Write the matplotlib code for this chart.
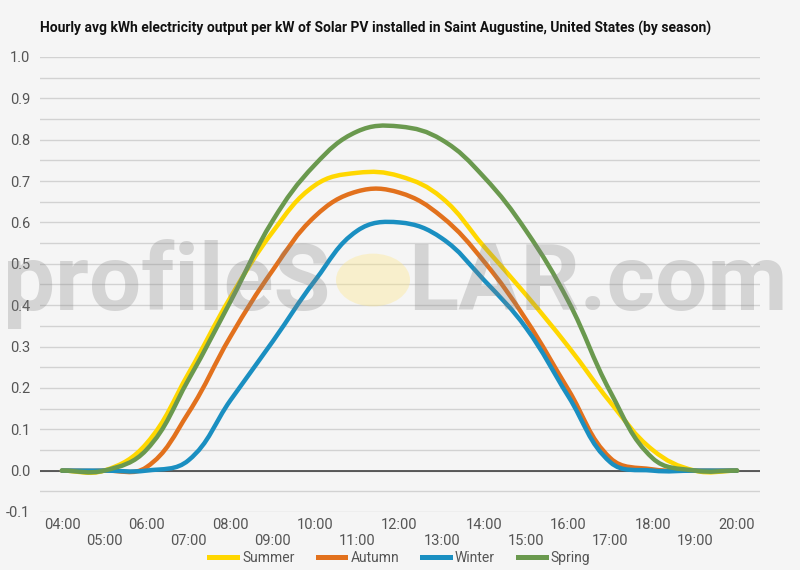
import matplotlib
matplotlib.use("Agg")
import matplotlib.pyplot as plt
from matplotlib.path import Path
from matplotlib.patches import PathPatch, Circle
from matplotlib.lines import Line2D

plt.rcParams['font.family'] = ['Roboto', 'DejaVu Sans']

# hourly average output (kWh per kW)
hours = list(range(4, 21))
hour_labels = ["%02d:00" % h for h in hours]

summer = [0, 0, 0.065, 0.235, 0.42, 0.578, 0.69, 0.72, 0.712, 0.66, 0.542, 0.425, 0.30, 0.165, 0.05, 0, 0]
autumn = [0, 0, 0.008, 0.14, 0.325, 0.485, 0.615, 0.675, 0.672, 0.614, 0.506, 0.365, 0.196, 0.03, 0.003, 0, 0]
winter = [0, 0, 0, 0.025, 0.171, 0.313, 0.46, 0.58, 0.60, 0.562, 0.461, 0.345, 0.18, 0.02, 0, 0, 0]
spring = [0, 0, 0.05, 0.22, 0.41, 0.605, 0.74, 0.82, 0.832, 0.80, 0.71, 0.58, 0.41, 0.19, 0.03, 0, 0]

series = [("Summer", summer, "#FFD700"),
          ("Autumn", autumn, "#E2711D"),
          ("Winter", winter, "#1A8FC1"),
          ("Spring", spring, "#6A994E")]

title = "Hourly avg kWh electricity output per kW of Solar PV installed in Saint Augustine, United States (by season)"


def smooth_path(ax, xs, ys, t=0.4):
    # chart.js style spline: control points weighted by on-screen distances
    pix = ax.transData.transform(list(zip(xs, ys)))
    n = len(xs)
    cps = []
    for i in range(n):
        a = max(i - 1, 0)
        b = min(i + 1, n - 1)
        d01 = ((pix[i] - pix[a]) ** 2).sum() ** 0.5
        d12 = ((pix[b] - pix[i]) ** 2).sum() ** 0.5
        tot = d01 + d12
        s01 = d01 / tot if tot else 0
        s12 = d12 / tot if tot else 0
        dx, dy = xs[b] - xs[a], ys[b] - ys[a]
        before = (xs[i] - t * s01 * dx, ys[i] - t * s01 * dy)
        after = (xs[i] + t * s12 * dx, ys[i] + t * s12 * dy)
        cps.append((before, after))
    verts = [(xs[0], ys[0])]
    codes = [Path.MOVETO]
    for i in range(n - 1):
        verts += [cps[i][1], cps[i + 1][0], (xs[i + 1], ys[i + 1])]
        codes += [Path.CURVE4] * 3
    return Path(verts, codes)


bg = "#f5f5f5"
fig = plt.figure(figsize=(8, 5.7), dpi=100, facecolor=bg)
ax = fig.add_axes([0.05, 0.1018, 0.90, 0.7982])
ax.set_facecolor(bg)
ax.set_xlim(3.48, 20.545)
ax.set_ylim(-0.1, 1.0)

for name, vals, col in series:
    p = PathPatch(smooth_path(ax, hours, vals), fill=False, edgecolor=col, lw=3.2,
                  capstyle='round', joinstyle='round', zorder=3)
    ax.add_patch(p)

ax.set_yticks([i / 10 for i in range(-1, 11)])
ax.set_yticklabels(["%.1f" % (i / 10) for i in range(-1, 11)])
ax.set_yticks([i / 20 for i in range(-2, 21)], minor=True)
ax.grid(True, which='both', axis='y', color='#d2d2d2', lw=1)
ax.axhline(0, color='#333333', lw=1.1, zorder=2)

ax.set_xticks(hours)
ax.set_xticklabels([lab if h % 2 == 0 else "\n" + lab for h, lab in zip(hours, hour_labels)])
ax.tick_params(axis='both', which='both', length=0, labelsize=10.5, labelcolor='#555555')
ax.tick_params(axis='x', pad=4)
ax.tick_params(axis='y', pad=7)
for s in ax.spines.values():
    s.set_visible(False)
ax.set_axisbelow(True)

# watermark
wm_style = dict(va='baseline', ha='left', family='Roboto', fontweight='bold',
                color='#808080', alpha=0.28, zorder=10)
wm1 = fig.text(3 / 800, 1 - 310 / 570, "profileS", fontsize=60, **wm_style)
wm2 = fig.text(408 / 800, 1 - 310 / 570, "LAR.com", fontsize=60, **wm_style)
fig.canvas.draw()
r = fig.canvas.get_renderer()
w1 = wm1.get_window_extent(r).width
w2 = wm2.get_window_extent(r).width
size = 60 * (330 / w1 + 377 / w2) / 2
wm1.set_fontsize(size)
wm2.set_fontsize(size)
fig.patches.append(Circle((373 / 800, 1 - 280 / 570), 37 / 800, transform=fig.transFigure,
                          facecolor='#ffe680', alpha=0.35, edgecolor='none', zorder=9))

fig.text(40 / 800, 1 - 28 / 570, title, ha='left', va='center', fontsize=10,
         fontweight='bold', color='#111111')

handles = [Line2D([], [], color=c, lw=3.6) for _, _, c in series]
fig.legend(handles, [n for n, _, _ in series], loc='center', bbox_to_anchor=(0.5, 1 - 558 / 570),
           ncol=4, frameon=False, fontsize=10, handlelength=2.0, handletextpad=0.36,
           columnspacing=1.66, labelcolor='#555555')

fig.savefig("out.png", dpi=100, facecolor=bg)
